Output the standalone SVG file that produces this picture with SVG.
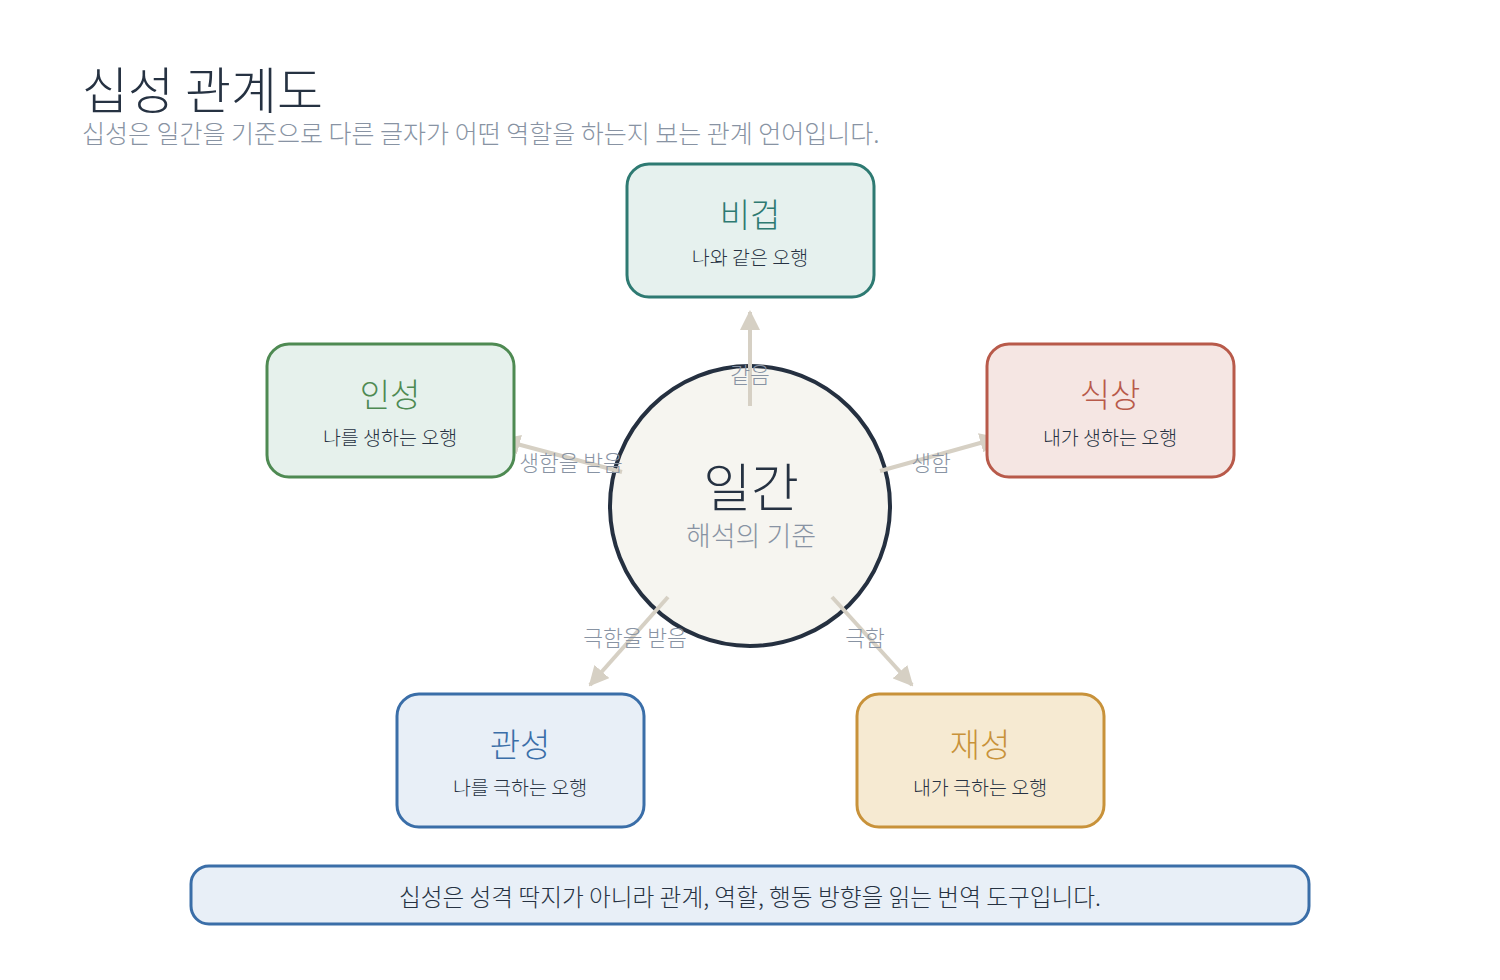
<svg xmlns="http://www.w3.org/2000/svg" width="1500" height="980" viewBox="0 0 1500 980">
  <style>
    text { font-family: "Noto Sans CJK KR", "Noto Sans", sans-serif; font-weight: 300; }
    .title { font-size: 50px; fill: #263242; }
    .subtitle { font-size: 25px; fill: #8893a3; }
    .box { stroke-width: 3; }
    .ntitle { font-size: 33px; text-anchor: middle; }
    .nsub { font-size: 19.5px; fill: #263242; text-anchor: middle; }
    .edge { stroke: #d6d0c4; stroke-width: 4; fill: none; }
    .elabel { font-size: 21.5px; fill: #8893a3; text-anchor: middle; }
  </style>
  <defs>
    <marker id="arrow" markerUnits="userSpaceOnUse" markerWidth="20" markerHeight="20" viewBox="0 0 20 20" refX="18" refY="10" orient="auto">
      <path d="M0,0 L20,10 L0,20 Z" fill="#d6d0c4"/>
    </marker>
  </defs>
  <rect width="1500" height="980" fill="#ffffff"/>

  <text class="title" x="82" y="109">십성 관계도</text>
  <text class="subtitle" x="82" y="143">십성은 일간을 기준으로 다른 글자가 어떤 역할을 하는지 보는 관계 언어입니다.</text>

  <g id="ilgan">
    <circle cx="750" cy="506" r="140" fill="#f6f5f0" stroke="#253040" stroke-width="4"/>
    <text x="751" y="507" font-size="52" fill="#263242" text-anchor="middle">일간</text>
    <text x="751" y="546" font-size="27" fill="#8893a3" text-anchor="middle">해석의 기준</text>
  </g>

  <g id="connectors">
    <line class="edge" x1="750" y1="406" x2="750" y2="312" marker-end="url(#arrow)"/>
    <line class="edge" x1="622" y1="472" x2="502" y2="440" marker-end="url(#arrow)"/>
    <line class="edge" x1="880" y1="471" x2="998" y2="438" marker-end="url(#arrow)"/>
    <line class="edge" x1="668" y1="597" x2="590" y2="685" marker-end="url(#arrow)"/>
    <line class="edge" x1="832" y1="597" x2="912" y2="685" marker-end="url(#arrow)"/>
  </g>

  <g id="bigeop">
    <rect class="box" x="627" y="164" width="247" height="133" rx="22" fill="#e6f1ee" stroke="#2e7a72"/>
    <text class="ntitle" x="750" y="227" fill="#2e7a72">비겁</text>
    <text class="nsub" x="750" y="265">나와 같은 오행</text>
  </g>
  <g id="inseong">
    <rect class="box" x="267" y="344" width="247" height="133" rx="22" fill="#e6f1ec" stroke="#4e8a52"/>
    <text class="ntitle" x="390" y="407" fill="#4e8a52">인성</text>
    <text class="nsub" x="390" y="445">나를 생하는 오행</text>
  </g>
  <g id="siksang">
    <rect class="box" x="987" y="344" width="247" height="133" rx="22" fill="#f5e6e3" stroke="#b85a4a"/>
    <text class="ntitle" x="1110" y="407" fill="#b85a4a">식상</text>
    <text class="nsub" x="1110" y="445">내가 생하는 오행</text>
  </g>
  <g id="gwanseong">
    <rect class="box" x="397" y="694" width="247" height="133" rx="22" fill="#e8eff7" stroke="#3a6ea8"/>
    <text class="ntitle" x="520" y="757" fill="#3a6ea8">관성</text>
    <text class="nsub" x="520" y="795">나를 극하는 오행</text>
  </g>
  <g id="jaeseong">
    <rect class="box" x="857" y="694" width="247" height="133" rx="22" fill="#f6ead2" stroke="#c8923a"/>
    <text class="ntitle" x="980" y="757" fill="#c8923a">재성</text>
    <text class="nsub" x="980" y="795">내가 극하는 오행</text>
  </g>

  <g id="edge-labels">
    <text class="elabel" x="571" y="471">생함을 받음</text>
    <text class="elabel" x="750" y="383">같음</text>
    <text class="elabel" x="931" y="471">생함</text>
    <text class="elabel" x="635" y="646">극함을 받음</text>
    <text class="elabel" x="865" y="646">극함</text>
  </g>

  <g id="footer">
    <rect x="191" y="866" width="1118" height="58" rx="18" fill="#e8eff7" stroke="#3a6ea8" stroke-width="3"/>
    <text x="750" y="906" font-size="23.7" fill="#263242" text-anchor="middle">십성은 성격 딱지가 아니라 관계, 역할, 행동 방향을 읽는 번역 도구입니다.</text>
  </g>
</svg>
